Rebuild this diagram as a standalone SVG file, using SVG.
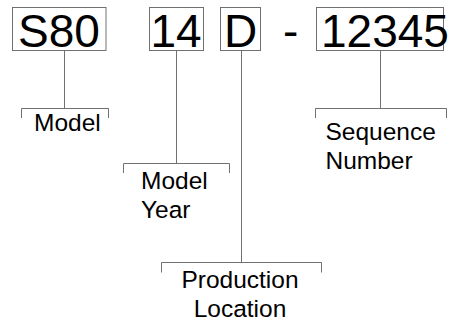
<svg xmlns="http://www.w3.org/2000/svg" width="459" height="323" viewBox="0 0 459 323">
<style>
.box{fill:#fff;stroke:#707070;stroke-width:1}
.big{font-family:"Liberation Sans",Arial,sans-serif;font-size:46px;fill:#000}
.lbl{font-family:"Liberation Sans",Arial,sans-serif;font-size:24.5px;fill:#000}
.ln{fill:none;stroke:#707070;stroke-width:1}
</style>
<rect width="459" height="323" fill="#fff"/>
<g id="connectors">
<path class="ln" d="M64.5,50.5V108.5 M21.5,118V108.5H108.5V118"/>
<path class="ln" d="M176.5,50.5V163.5 M123.5,173V163.5H229.5V173"/>
<path class="ln" d="M241.5,50.5V262.5 M161.5,272.5V262.5H321.5V272.5"/>
<path class="ln" d="M380.5,50.5V108.5 M315.5,118V108.5H446.5V118"/>
</g>
<g id="model-code">
<rect class="box" x="12.5" y="7.5" width="93.5" height="43"/>
<text class="big" x="18" y="47">S80</text>
</g>
<g id="year-code">
<rect class="box" x="149.5" y="7.5" width="54" height="43"/>
<text class="big" x="150.5" y="47">14</text>
</g>
<g id="location-code">
<rect class="box" x="220.5" y="7.5" width="40" height="43"/>
<text class="big" x="224" y="47">D</text>
</g>
<g id="dash">
<text class="big" x="283" y="47">-</text>
</g>
<g id="sequence-code">
<rect class="box" x="316.5" y="7.5" width="127" height="43"/>
<text class="big" x="321" y="47">12345</text>
</g>
<g id="model-label">
<text class="lbl" x="34" y="131">Model</text>
</g>
<g id="year-label">
<text class="lbl" x="141" y="189">Model</text>
<text class="lbl" x="141" y="218">Year</text>
</g>
<g id="location-label">
<text class="lbl" x="240" y="288" text-anchor="middle">Production</text>
<text class="lbl" x="240" y="317" text-anchor="middle">Location</text>
</g>
<g id="sequence-label">
<text class="lbl" x="325.5" y="140">Sequence</text>
<text class="lbl" x="325.5" y="169">Number</text>
</g>
</svg>
